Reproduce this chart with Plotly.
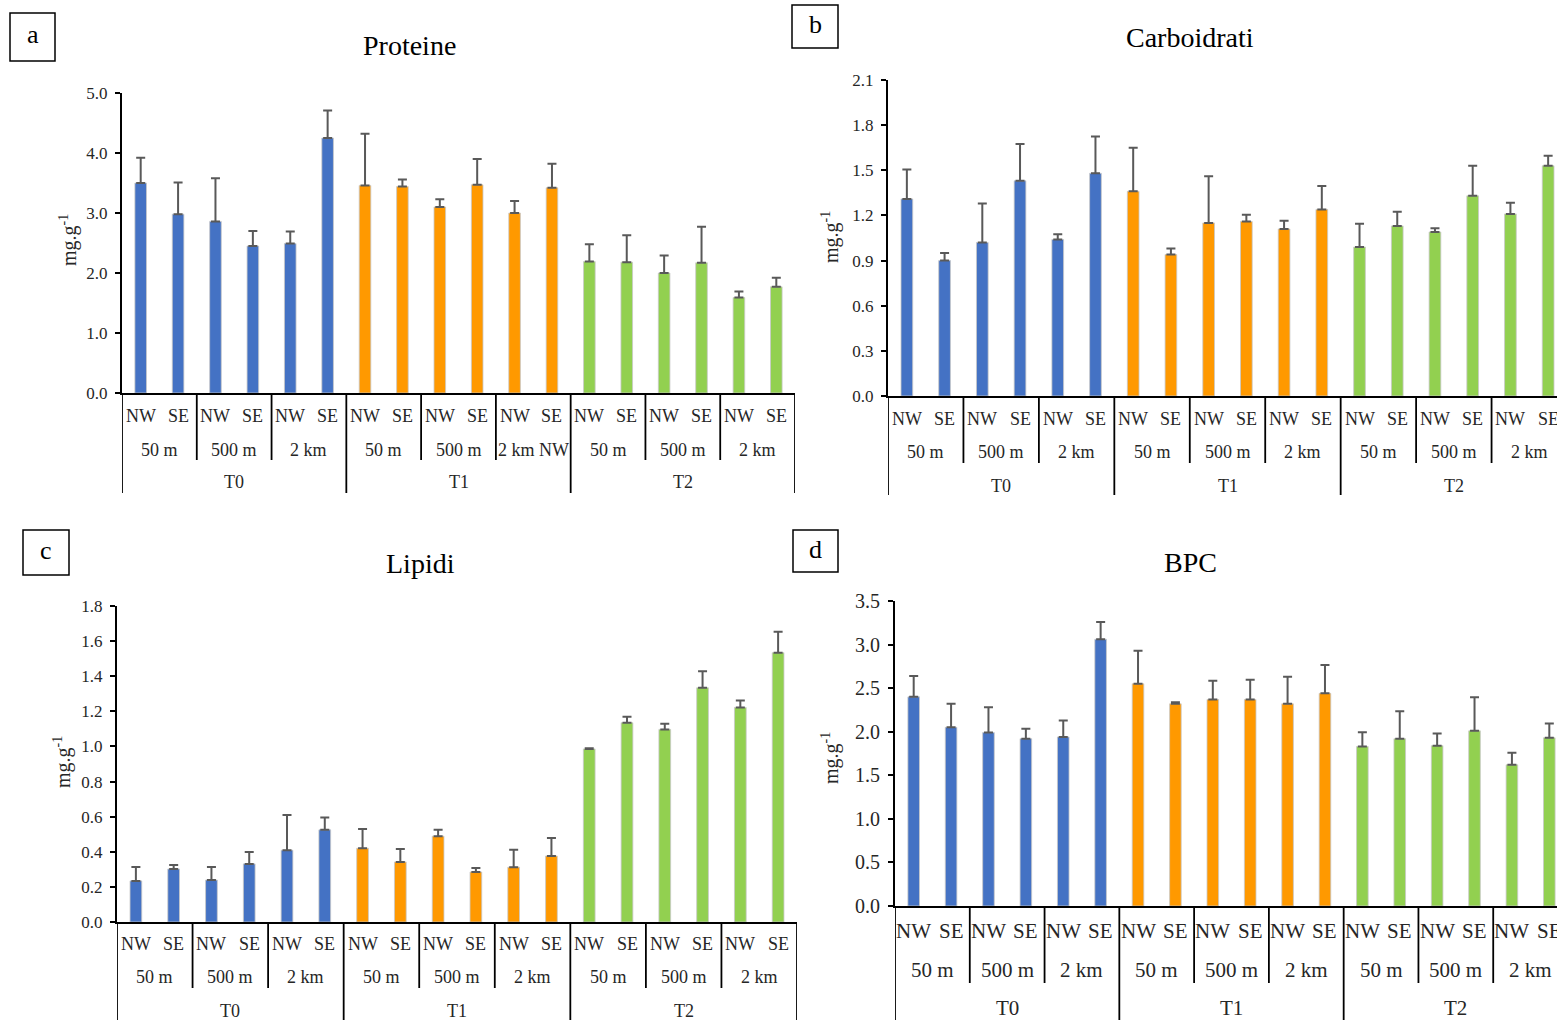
import plotly.graph_objects as go

W, H = 1557, 1020

# ---------------- data ----------------
times = ["T0", "T1", "T2"]
distances = ["50 m", "500 m", "2 km"]
sides = ["NW", "SE"]

# order: T0(50m NW, 50m SE, 500m NW, 500m SE, 2km NW, 2km SE), T1(...), T2(...)
proteine = [3.50, 2.98, 2.86, 2.45, 2.49, 4.25,
            3.46, 3.44, 3.10, 3.47, 3.00, 3.42,
            2.19, 2.18, 2.00, 2.17, 1.59, 1.77]
proteine_err = [0.42, 0.53, 0.72, 0.25, 0.20, 0.46,
                0.86, 0.12, 0.13, 0.43, 0.20, 0.40,
                0.29, 0.45, 0.29, 0.60, 0.10, 0.15]

carboidrati = [1.31, 0.90, 1.02, 1.43, 1.04, 1.48,
               1.36, 0.94, 1.15, 1.16, 1.11, 1.24,
               0.99, 1.13, 1.09, 1.33, 1.21, 1.53]
carboidrati_err = [0.195, 0.05, 0.26, 0.245, 0.035, 0.245,
                   0.29, 0.04, 0.31, 0.045, 0.055, 0.155,
                   0.155, 0.095, 0.025, 0.20, 0.075, 0.067]

lipidi = [0.234, 0.302, 0.239, 0.331, 0.409, 0.525,
          0.420, 0.342, 0.489, 0.285, 0.312, 0.376,
          0.986, 1.135, 1.097, 1.334, 1.222, 1.534]
lipidi_err = [0.08, 0.023, 0.075, 0.068, 0.20, 0.07,
              0.11, 0.074, 0.036, 0.023, 0.10, 0.103,
              0.004, 0.034, 0.032, 0.095, 0.04, 0.12]

bpc = [2.40, 2.05, 1.99, 1.92, 1.94, 3.06,
       2.55, 2.32, 2.37, 2.37, 2.32, 2.44,
       1.83, 1.92, 1.84, 2.01, 1.62, 1.93]
bpc_err = [0.24, 0.27, 0.29, 0.115, 0.19, 0.20,
           0.38, 0.017, 0.215, 0.225, 0.31, 0.325,
           0.165, 0.315, 0.14, 0.385, 0.14, 0.165]

# distance labels as printed in panel a (the T1 "2 km" cell reads "2 km NW")
dist_labels_a = [["50 m", "500 m", "2 km"], ["50 m", "500 m", "2 km NW"], ["50 m", "500 m", "2 km"]]
dist_labels_std = [distances, distances, distances]

y_unit_title = "mg.g<sup>-1</sup>"

# ---------------- styling / geometry ----------------
time_colors = ["#4472C4", "#FF9900", "#92D050"]
FONT = "Liberation Serif, Times New Roman, serif"

panels = [
    dict(letter="a", title="Proteine", vals=proteine, err=proteine_err, ymax=5.0, dtick=1.0,
         x0=122, xfull=795, yt=93, yb=393, dl=dist_labels_a,
         rows=(23, 57, 89), divs=(67, 100), lab_fs=18, tick_fs=17,
         title_xy=(409, 46), box=(10, 13, 55, 61), ytitle_xy=(68, 240)),
    dict(letter="b", title="Carboidrati", vals=carboidrati, err=carboidrati_err, ymax=2.1, dtick=0.3,
         x0=888, xfull=1567, yt=80, yb=396, dl=dist_labels_std,
         rows=(23, 56, 90), divs=(67, 99), lab_fs=18, tick_fs=17,
         title_xy=(1190, 38), box=(792, 5, 838, 48), ytitle_xy=(830, 237)),
    dict(letter="c", title="Lipidi", vals=lipidi, err=lipidi_err, ymax=1.8, dtick=0.2,
         x0=117, xfull=797, yt=606, yb=922, dl=dist_labels_std,
         rows=(22, 55, 89), divs=(66, 98), lab_fs=18, tick_fs=17,
         title_xy=(420, 563), box=(23, 530, 69, 575), ytitle_xy=(62, 762)),
    dict(letter="d", title="BPC", vals=bpc, err=bpc_err, ymax=3.5, dtick=0.5,
         x0=895, xfull=1568, yt=601, yb=906, dl=dist_labels_std,
         rows=(25, 64, 102), divs=(77, 114), lab_fs=21, tick_fs=20,
         title_xy=(1190, 562), box=(793, 530, 838, 572), ytitle_xy=(830, 758)),
]


def px(x):
    return x / W


def py(y):
    return 1 - y / H


fig = go.Figure()
annotations = []
shapes = []
layout_axes = {}
ncat = len(times) * len(distances) * len(sides)

for k, p in enumerate(panels):
    idx = "" if k == 0 else str(k + 1)
    xa, ya = "x" + idx, "y" + idx
    cat_w = (p["xfull"] - p["x0"]) / ncat
    dom_end = min(p["xfull"], W)
    x_end = -0.5 + (dom_end - p["x0"]) / cat_w

    for t, tname in enumerate(times):
        n = len(distances) * len(sides)
        xs = list(range(t * n, (t + 1) * n))
        ys = p["vals"][t * n:(t + 1) * n]
        es = p["err"][t * n:(t + 1) * n]
        fig.add_trace(go.Bar(
            x=xs, y=ys, xaxis=xa, yaxis=ya, width=0.31,
            marker=dict(color=time_colors[t], line=dict(color="#C8C8C8", width=0.8)),
            error_y=dict(type="data", symmetric=False, array=es, arrayminus=[0] * len(es),
                         color="#595959", thickness=2, width=4.5),
            showlegend=False, name=tname))

    layout_axes["xaxis" + idx] = dict(
        domain=[px(p["x0"]), px(dom_end)], range=[-0.5, x_end], anchor=ya,
        showticklabels=False, ticks="", showgrid=False, zeroline=False, automargin=False,
        showline=True, linecolor="black", linewidth=2, fixedrange=True)
    layout_axes["yaxis" + idx] = dict(
        domain=[py(p["yb"]), py(p["yt"])], range=[0, p["ymax"]], anchor=xa,
        dtick=p["dtick"], tick0=0, tickformat=".1f", ticks="outside", ticklen=5,
        tickwidth=1.5, tickcolor="black", showgrid=False, zeroline=False, automargin=False,
        showline=True, linecolor="black", linewidth=2, ticklabelstandoff=4, fixedrange=True,
        tickfont=dict(family=FONT, size=p["tick_fs"], color="#262626"))

    r1, r2, r3 = p["rows"]
    dlen, tlen = p["divs"]
    # hierarchical category labels
    for t, tname in enumerate(times):
        for d in range(len(distances)):
            for s, sname in enumerate(sides):
                i = t * 6 + d * 2 + s
                annotations.append(dict(x=i, y=py(p["yb"] + r1), xref=xa, yref="paper",
                                        text=sname, showarrow=False, yanchor="middle",
                                        font=dict(family=FONT, size=p["lab_fs"], color="#262626")))
            annotations.append(dict(x=t * 6 + d * 2 + 0.5, y=py(p["yb"] + r2), xref=xa, yref="paper",
                                    text=p["dl"][t][d], showarrow=False, yanchor="middle",
                                    font=dict(family=FONT, size=p["lab_fs"], color="#262626")))
        annotations.append(dict(x=t * 6 + 2.5, y=py(p["yb"] + r3), xref=xa, yref="paper",
                                text=tname, showarrow=False, yanchor="middle",
                                font=dict(family=FONT, size=p["lab_fs"], color="#262626")))
    # divider lines
    for t in range(len(times) + 1):
        xb = t * 6 - 0.5
        shapes.append(dict(type="line", xref=xa, yref="paper", x0=xb, x1=xb,
                           y0=py(p["yb"]), y1=py(min(p["yb"] + tlen, H)),
                           line=dict(color="black", width=1.8)))
    for t in range(len(times)):
        for d in (1, 2):
            xb = t * 6 + d * 2 - 0.5
            shapes.append(dict(type="line", xref=xa, yref="paper", x0=xb, x1=xb,
                               y0=py(p["yb"]), y1=py(p["yb"] + dlen),
                               line=dict(color="black", width=1.8)))

    # panel title
    tx, ty = p["title_xy"]
    annotations.append(dict(x=px(tx), y=py(ty), xref="paper", yref="paper", text=p["title"],
                            showarrow=False, xanchor="center", yanchor="middle",
                            font=dict(family=FONT, size=28, color="black")))
    # letter box
    bx0, by0, bx1, by1 = p["box"]
    shapes.append(dict(type="rect", xref="paper", yref="paper", x0=px(bx0), x1=px(bx1),
                       y0=py(by1), y1=py(by0), line=dict(color="black", width=1.5),
                       fillcolor="white"))
    annotations.append(dict(x=px((bx0 + bx1) / 2), y=py((by0 + by1) / 2 - 2), xref="paper", yref="paper",
                            text=p["letter"], showarrow=False, xanchor="center", yanchor="middle",
                            font=dict(family=FONT, size=26, color="black")))
    # y-axis title
    yx, yy = p["ytitle_xy"]
    annotations.append(dict(x=px(yx), y=py(yy), xref="paper", yref="paper", text=y_unit_title,
                            showarrow=False, textangle=-90, xanchor="center", yanchor="middle",
                            font=dict(family=FONT, size=20, color="#262626")))

fig.update_layout(
    template="none",
    width=W, height=H, margin=dict(l=0, r=0, t=0, b=0, pad=0), autosize=False,
    paper_bgcolor="white", plot_bgcolor="white",
    annotations=annotations, shapes=shapes, bargap=0.2,
    **layout_axes)

fig.write_html("out.html", config={"displayModeBar": False},
               post_script="document.body.style.margin='0';document.body.style.overflow='hidden';")
